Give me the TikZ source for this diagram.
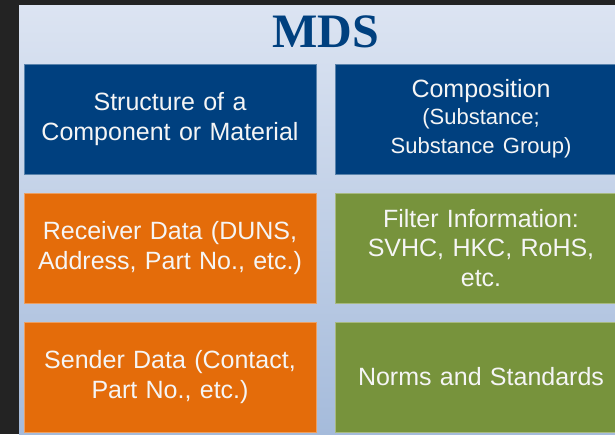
\documentclass[tikz,border=0pt]{standalone}
\usepackage{fontspec}
\setmainfont{Liberation Serif}
\setsansfont{Liberation Sans}
\usetikzlibrary{positioning}

\definecolor{frame}{HTML}{232323}
\definecolor{bgtop}{HTML}{DCE4F2}
\definecolor{bgmid}{HTML}{CBD8EE}
\definecolor{bgbottom}{HTML}{A5BBDB}
\definecolor{mdsblue}{HTML}{00407F}
\definecolor{mdsorange}{HTML}{E46C0A}
\definecolor{mdsgreen}{HTML}{77933C}

\begin{document}
\begin{tikzpicture}[
		basic/.style    = {draw, rectangle, line width=0.8pt, outer sep=0pt, inner sep=4pt, minimum width=292pt, minimum height=110pt, text width=282pt, align=center, text=white!96!black, font=\sffamily\fontsize{25}{29.5}\selectfont},
		bluebox/.style  = {basic, fill=mdsblue, draw=mdsblue!65!white},
		orangebox/.style = {basic, fill=mdsorange, draw=mdsorange!65!white},
		greenbox/.style = {basic, fill=mdsgreen, draw=mdsgreen!65!white},
		title/.style    = {inner sep=0pt, text=mdsblue, font=\bfseries\fontsize{48}{48}\selectfont}]
		
		\useasboundingbox (0,0) rectangle (615pt,-434pt);
		\clip (0,0) rectangle (615pt,-434pt);
		
		% Frame and slide background
		\fill[frame] (0,0) rectangle (615pt,-434pt);
		\shade[top color=bgtop, middle color=bgmid, bottom color=bgbottom] (19pt,-5pt) rectangle (615pt,-434pt);
		
		% Heading
		\node[title, anchor=base] (mds) at (326pt,-47pt) {MDS};
		
		% First row
		\node[bluebox] (struct) at (170pt,-119pt) {Structure of a\\ Component or Material};
		\node[bluebox, right=19pt of struct] (comp) {Composition\\ \fontsize{22}{26.5}\selectfont (Substance;\\ Substance Group)};
		
		% Second and third row, relatively positioned nodes
		\node[orangebox, below=19pt of struct] (receiver) {Receiver Data (DUNS,\\ Address, Part No., etc.)};
		\node[greenbox, below=19pt of comp] (filter) {Filter Information:\\ SVHC, HKC, RoHS,\\ etc.};
		
		\node[orangebox, below=19pt of receiver] (sender) {Sender Data (Contact,\\ Part No., etc.)};
		\node[greenbox, below=19pt of filter] (norms) {Norms and Standards};
		
	\end{tikzpicture}
\end{document}
